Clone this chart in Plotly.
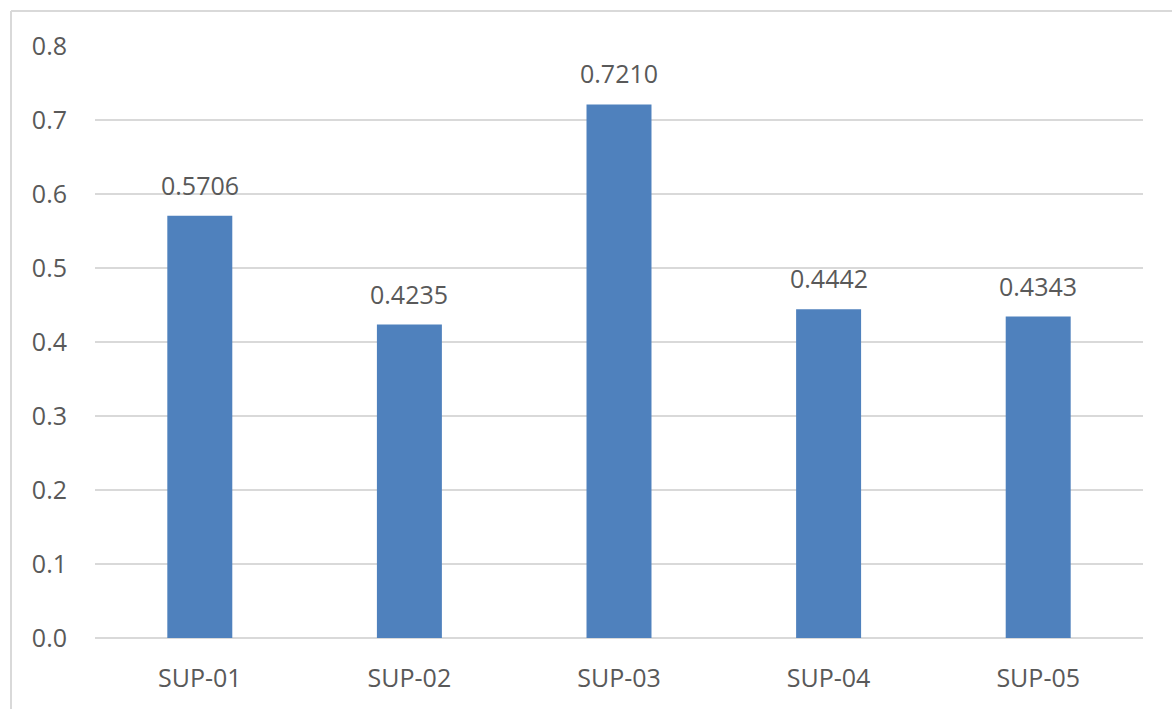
import plotly.graph_objects as go

categories = ["SUP-01", "SUP-02", "SUP-03", "SUP-04", "SUP-05"]
values = [0.5706, 0.4235, 0.7210, 0.4442, 0.4343]
labels = ["0.5706", "0.4235", "0.7210", "0.4442", "0.4343"]
y_ticks = [0.0, 0.1, 0.2, 0.3, 0.4, 0.5, 0.6, 0.7, 0.8]

W, H = 1172, 709
ml, mr, mt, mb = 95, 29, 46, 71
pw, ph = W - ml - mr, H - mt - mb
FS = 25
TXT = "#595959"

def px_x(px):
    return (px - ml) / pw

def px_y(py):
    return (H - mb - py) / ph

fig = go.Figure(go.Bar(
    x=categories, y=values,
    marker=dict(color="#4F81BD", line=dict(width=0)),
    width=0.31,
))

for c, v, t in zip(categories, values, labels):
    fig.add_annotation(x=c, y=v, text=t, showarrow=False, yanchor="bottom",
                       yshift=12, font=dict(family="Open Sans", size=FS, color=TXT))

fig.update_layout(
    width=W, height=H,
    margin=dict(l=ml, r=mr, t=mt, b=mb),
    paper_bgcolor="white", plot_bgcolor="white",
    showlegend=False,
    font=dict(family="Open Sans", size=FS, color=TXT),
    xaxis=dict(showgrid=False, showline=False, zeroline=False, ticks="",
               ticklabelstandoff=23,
               tickfont=dict(size=FS, color=TXT)),
    yaxis=dict(range=[0, 0.8], tickvals=y_ticks, ticktext=[f"{v:.1f}" for v in y_ticks],
               showgrid=True, gridcolor="#D9D9D9", gridwidth=2,
               zeroline=True, zerolinecolor="#D9D9D9", zerolinewidth=2,
               showline=False, ticks="", ticklabelstandoff=27,
               tickfont=dict(size=FS, color=TXT)),
    shapes=[
        dict(type="line", xref="paper", yref="paper",
             x0=px_x(11), x1=px_x(1200), y0=px_y(11), y1=px_y(11),
             line=dict(color="#D9D9D9", width=2)),
        dict(type="line", xref="paper", yref="paper",
             x0=px_x(11), x1=px_x(11), y0=px_y(11), y1=px_y(730),
             line=dict(color="#D9D9D9", width=2)),
    ],
)

fig.write_html("out.html")
